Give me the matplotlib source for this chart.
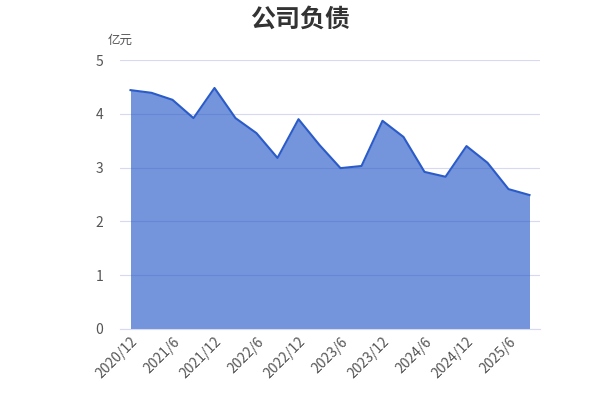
import matplotlib
matplotlib.use("Agg")
from matplotlib import pyplot as plt

plt.rcParams['font.family'] = ['Noto Sans CJK SC', 'DejaVu Sans']

quarters = ["2020/12", "2021/3", "2021/6", "2021/9", "2021/12", "2022/3", "2022/6", "2022/9",
            "2022/12", "2023/3", "2023/6", "2023/9", "2023/12", "2024/3", "2024/6", "2024/9",
            "2024/12", "2025/3", "2025/6", "2025/9"]
debt = [4.44, 4.39, 4.26, 3.92, 4.48, 3.92, 3.64, 3.18,
        3.90, 3.42, 2.99, 3.03, 3.87, 3.57, 2.92, 2.83,
        3.40, 3.09, 2.60, 2.49]

fig = plt.figure(figsize=(6, 4), dpi=100)
ax = fig.add_axes([0.2, 0.1775, 0.7, 0.6725])

x = list(range(len(quarters)))
ax.fill_between(x, debt, 0, color="#2a5bc8", alpha=0.65, linewidth=0)
ax.plot(x, debt, color="#2a5bc8", linewidth=1.5)

ax.set_xlim(-0.5, len(quarters) - 0.5)
ax.set_ylim(0, 5)
ax.set_yticks([0, 1, 2, 3, 4, 5])
ax.grid(axis="y", color="#d6d9f0", linewidth=0.8)
ax.set_axisbelow(True)

ax.set_xticks(x[::2])
ax.set_xticklabels(quarters[::2], rotation=45, ha="right", rotation_mode="anchor")
ax.tick_params(axis="both", length=0, colors="#555555", labelsize=10)
ax.tick_params(axis="y", pad=12)
ax.tick_params(axis="x", pad=4)

for s in ["top", "right", "left"]:
    ax.spines[s].set_visible(False)
ax.spines["bottom"].set_color("#d6d9f0")

fig.text(0.5, 0.95, "公司负债", ha="center", va="center", fontsize=18, fontweight="bold", color="#333333")
fig.text(0.18, 0.9, "亿元", ha="left", va="center", fontsize=9, color="#555555")

fig.savefig("out.png")
